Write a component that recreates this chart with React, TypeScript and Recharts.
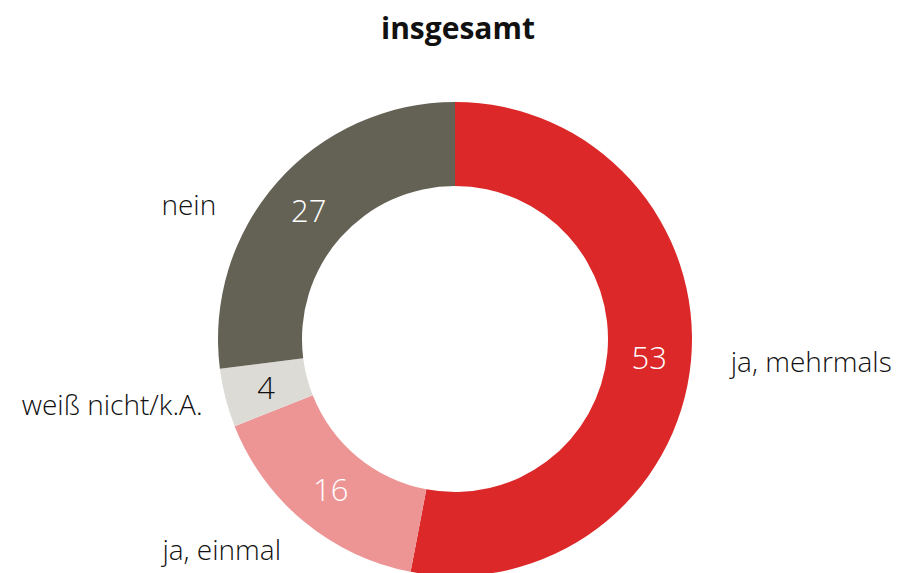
import { PieChart, Pie, Cell } from "recharts";

const categories = ["ja, mehrmals", "ja, einmal", "weiß nicht/k.A.", "nein"];
const values = [53, 16, 4, 27];
const colors = ["#DC2828", "#ED9595", "#DDDBD6", "#646155"];
const valueColors = ["#ffffff", "#ffffff", "#111111", "#ffffff"];

const data = categories.map((name, i) => ({ name, value: values[i] }));

const FONT = "'Open Sans', 'Noto Sans', sans-serif";
const RAD = Math.PI / 180;

// Excel moved some labels a bit off their radial spot
const NUDGE: Record<number, { dx: number; dy: number }> = {
  0: { dx: 4, dy: -4 },
  2: { dx: 12, dy: -3 },
  3: { dx: -34, dy: 46 },
};

function renderLabel(props: any) {
  const { cx, cy, midAngle, innerRadius, outerRadius, index, value, name } = props;
  const cos = Math.cos(-midAngle * RAD);
  const sin = Math.sin(-midAngle * RAD);
  const rIn = (innerRadius + outerRadius) / 2;
  const vx = cx + rIn * cos;
  const vy = cy + rIn * sin;
  const rOut = outerRadius + 36;
  const nudge = NUDGE[index] || { dx: 0, dy: 0 };
  const lx = cx + rOut * cos + nudge.dx;
  const ly = cy + rOut * sin + nudge.dy;
  const right = cos >= 0;
  return (
    <g>
      <text
        x={vx}
        y={vy}
        fill={valueColors[index]}
        textAnchor="middle"
        dominantBaseline="central"
        fontSize={31}
        fontWeight={300}
        fontFamily={FONT}
      >
        {value}
      </text>
      <text
        x={lx}
        y={ly}
        fill="#111111"
        textAnchor={right ? "start" : "end"}
        dominantBaseline="central"
        fontSize={28}
        fontWeight={300}
        fontFamily={FONT}
      >
        {name}
      </text>
    </g>
  );
}

export default function App() {
  return (
    <div style={{ position: "absolute", left: 0, top: 0, width: 900, height: 573, background: "#fff" }}>
      <div
        style={{
          position: "absolute",
          top: 7,
          left: 8,
          width: 900,
          textAlign: "center",
          fontFamily: FONT,
          fontWeight: 700,
          fontSize: 30,
          color: "#111",
        }}
      >
        insgesamt
      </div>
      <PieChart width={900} height={573}>
        <Pie
          data={data}
          dataKey="value"
          nameKey="name"
          cx={450}
          cy={334}
          innerRadius={153}
          outerRadius={237}
          startAngle={90}
          endAngle={-270}
          stroke="none"
          label={renderLabel}
          labelLine={false}
          isAnimationActive={false}
        >
          {data.map((d, i) => (
            <Cell key={d.name} fill={colors[i]} />
          ))}
        </Pie>
      </PieChart>
    </div>
  );
}
